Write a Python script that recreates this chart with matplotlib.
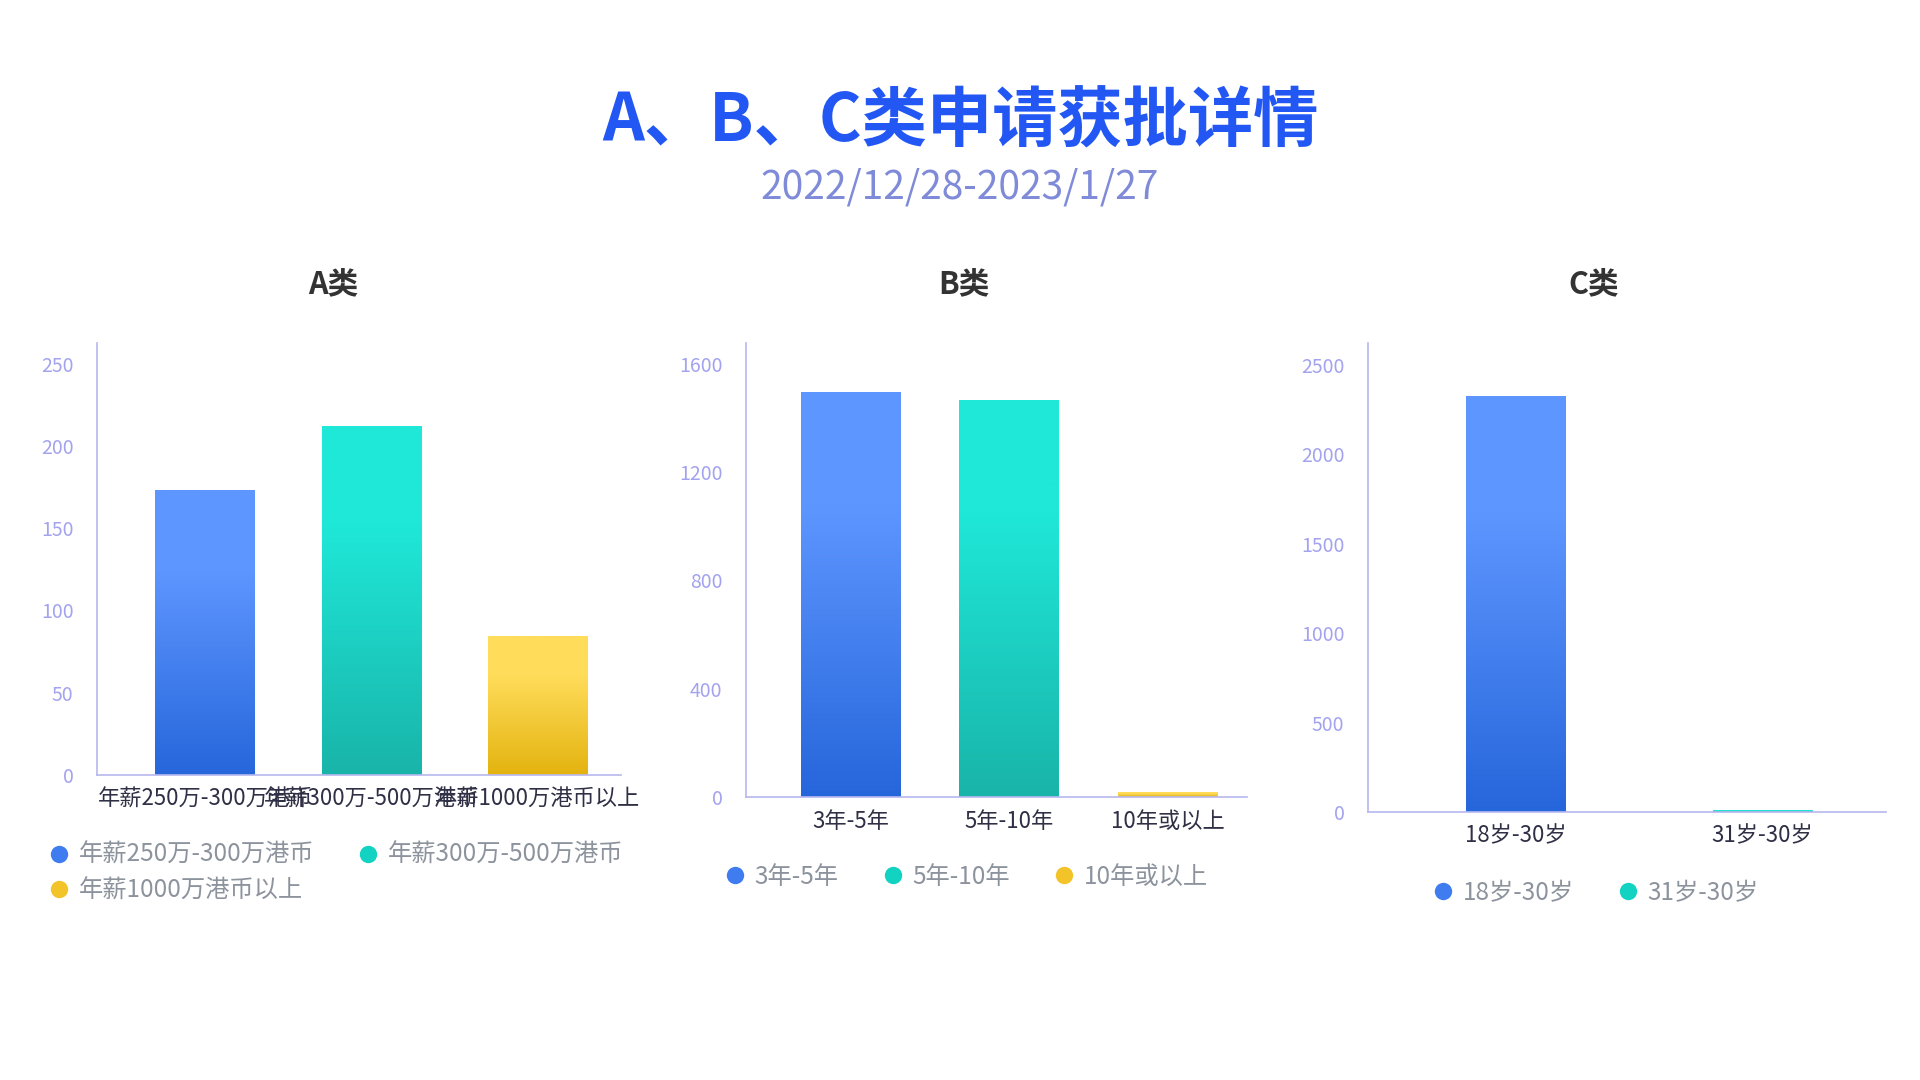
import numpy as np
import matplotlib.pyplot as plt
from matplotlib.colors import to_rgb
from matplotlib.lines import Line2D

plt.rcParams['font.family'] = ['Noto Sans CJK SC', 'DejaVu Sans']

# data
a_labels = ['年薪250万-300万港币', '年薪300万-500万港币', '年薪1000万港币以上']
a_values = [173, 212, 84]
a_ticks = [0, 50, 100, 150, 200, 250]

b_labels = ['3年-5年', '5年-10年', '10年或以上']
b_values = [1492, 1462, 17]
b_ticks = [0, 400, 800, 1200, 1600]

c_labels = ['18岁-30岁', '31岁-30岁']
c_values = [2325, 10]
c_ticks = [0, 500, 1000, 1500, 2000, 2500]

# (bottom, top) colours of each bar gradient, and the legend dot colours
GRADIENTS = [('#2666db', '#5e96ff'), ('#19b4a9', '#1fe8d8'), ('#e3b30f', '#ffdc5a')]
DOT_COLORS = ['#3f7cf0', '#12d2c2', '#f2c42a']

AXIS_COLOR = '#b8b8f0'
YTICK_COLOR = '#a3a3ef'
XTICK_COLOR = '#2f2f45'
LEGEND_COLOR = '#8c939d'

W, H = 1920, 1080
fig = plt.figure(figsize=(W / 100, H / 100), dpi=100)
fig.patch.set_facecolor('white')


def px_axes(left, right, top, bottom):
    """Add axes from pixel edges (origin at top left)."""
    return fig.add_axes([left / W, 1 - bottom / H, (right - left) / W, (bottom - top) / H])


def gradient_fill(ax, bar, lo, hi):
    x0, y0 = bar.get_x(), bar.get_y()
    x1, y1 = x0 + bar.get_width(), y0 + bar.get_height()
    t = np.linspace(0, 1, 256)
    t = np.clip(t / 0.72, 0, 1)[:, None]
    lo, hi = np.array(to_rgb(lo)), np.array(to_rgb(hi))
    img = (lo + (hi - lo) * t)[:, None, :]
    ax.imshow(img, extent=[x0, x1, y0, y1], origin='lower', aspect='auto',
              interpolation='bilinear', zorder=2)


def draw_panel(ax, labels, values, ticks, ymax, xlim, width):
    x = np.arange(len(values))
    bars = ax.bar(x, values, width=width, color='none', zorder=2)
    for i, bar in enumerate(bars):
        gradient_fill(ax, bar, *GRADIENTS[i])
    ax.set_xlim(*xlim)
    ax.set_ylim(0, ymax)
    ax.set_xticks(x, labels)
    ax.set_yticks(ticks)
    ax.tick_params(axis='x', length=0, pad=9, labelsize=16, labelcolor=XTICK_COLOR)
    ax.tick_params(axis='y', length=0, pad=17, labelsize=14, labelcolor=YTICK_COLOR)
    for side in ['top', 'right']:
        ax.spines[side].set_visible(False)
    for side in ['left', 'bottom']:
        ax.spines[side].set_color(AXIS_COLOR)
        ax.spines[side].set_linewidth(1.2)


def add_legend(labels, x, y, ncol, order=None):
    handles = [Line2D([], [], ls='none', marker='o', markersize=12.5,
                      markerfacecolor=DOT_COLORS[i], markeredgewidth=0)
               for i in range(len(labels))]
    # legend fills column by column, so reorder to get row-wise items
    order = order or list(range(len(labels)))
    fig.legend([handles[i] for i in order], [labels[i] for i in order],
               loc='center left', bbox_to_anchor=(x / W, 1 - y / H),
               ncol=ncol, frameon=False, fontsize=17.5, labelcolor=LEGEND_COLOR,
               handlelength=0.8, handletextpad=0.41, columnspacing=1.83,
               labelspacing=0.4, borderpad=0, borderaxespad=0)


# headings
fig.text(0.5, 1 - 122 / H, 'A、B、C类申请获批详情', ha='center', va='center',
         fontsize=47, fontweight='bold', color='#2257f4')
fig.text(0.5, 1 - 187 / H, '2022/12/28-2023/1/27', ha='center', va='center',
         fontsize=28, color='#7f8bd9')

for name, cx in [('A类', 333), ('B类', 964), ('C类', 1594)]:
    fig.text(cx / W, 1 - 284 / H, name, ha='center', va='center',
             fontsize=22, fontweight='bold', color='#333333')

ax_a = px_axes(97, 621, 343, 775)
draw_panel(ax_a, a_labels, a_values, a_ticks, 262.6, (-0.65, 2.5), 0.6)

ax_b = px_axes(746, 1247, 343, 797)
draw_panel(ax_b, b_labels, b_values, b_ticks, 1676, (-0.66, 2.5), 0.63)

ax_c = px_axes(1368, 1886, 343, 812)
draw_panel(ax_c, c_labels, c_values, c_ticks, 2622, (-0.6, 1.5), 0.405)

add_legend(a_labels, 49, 873, 2, order=[0, 2, 1])
add_legend(b_labels, 725, 877, 3)
add_legend(c_labels, 1433, 893, 2)

fig.savefig('out.png', dpi=100, facecolor='white')
